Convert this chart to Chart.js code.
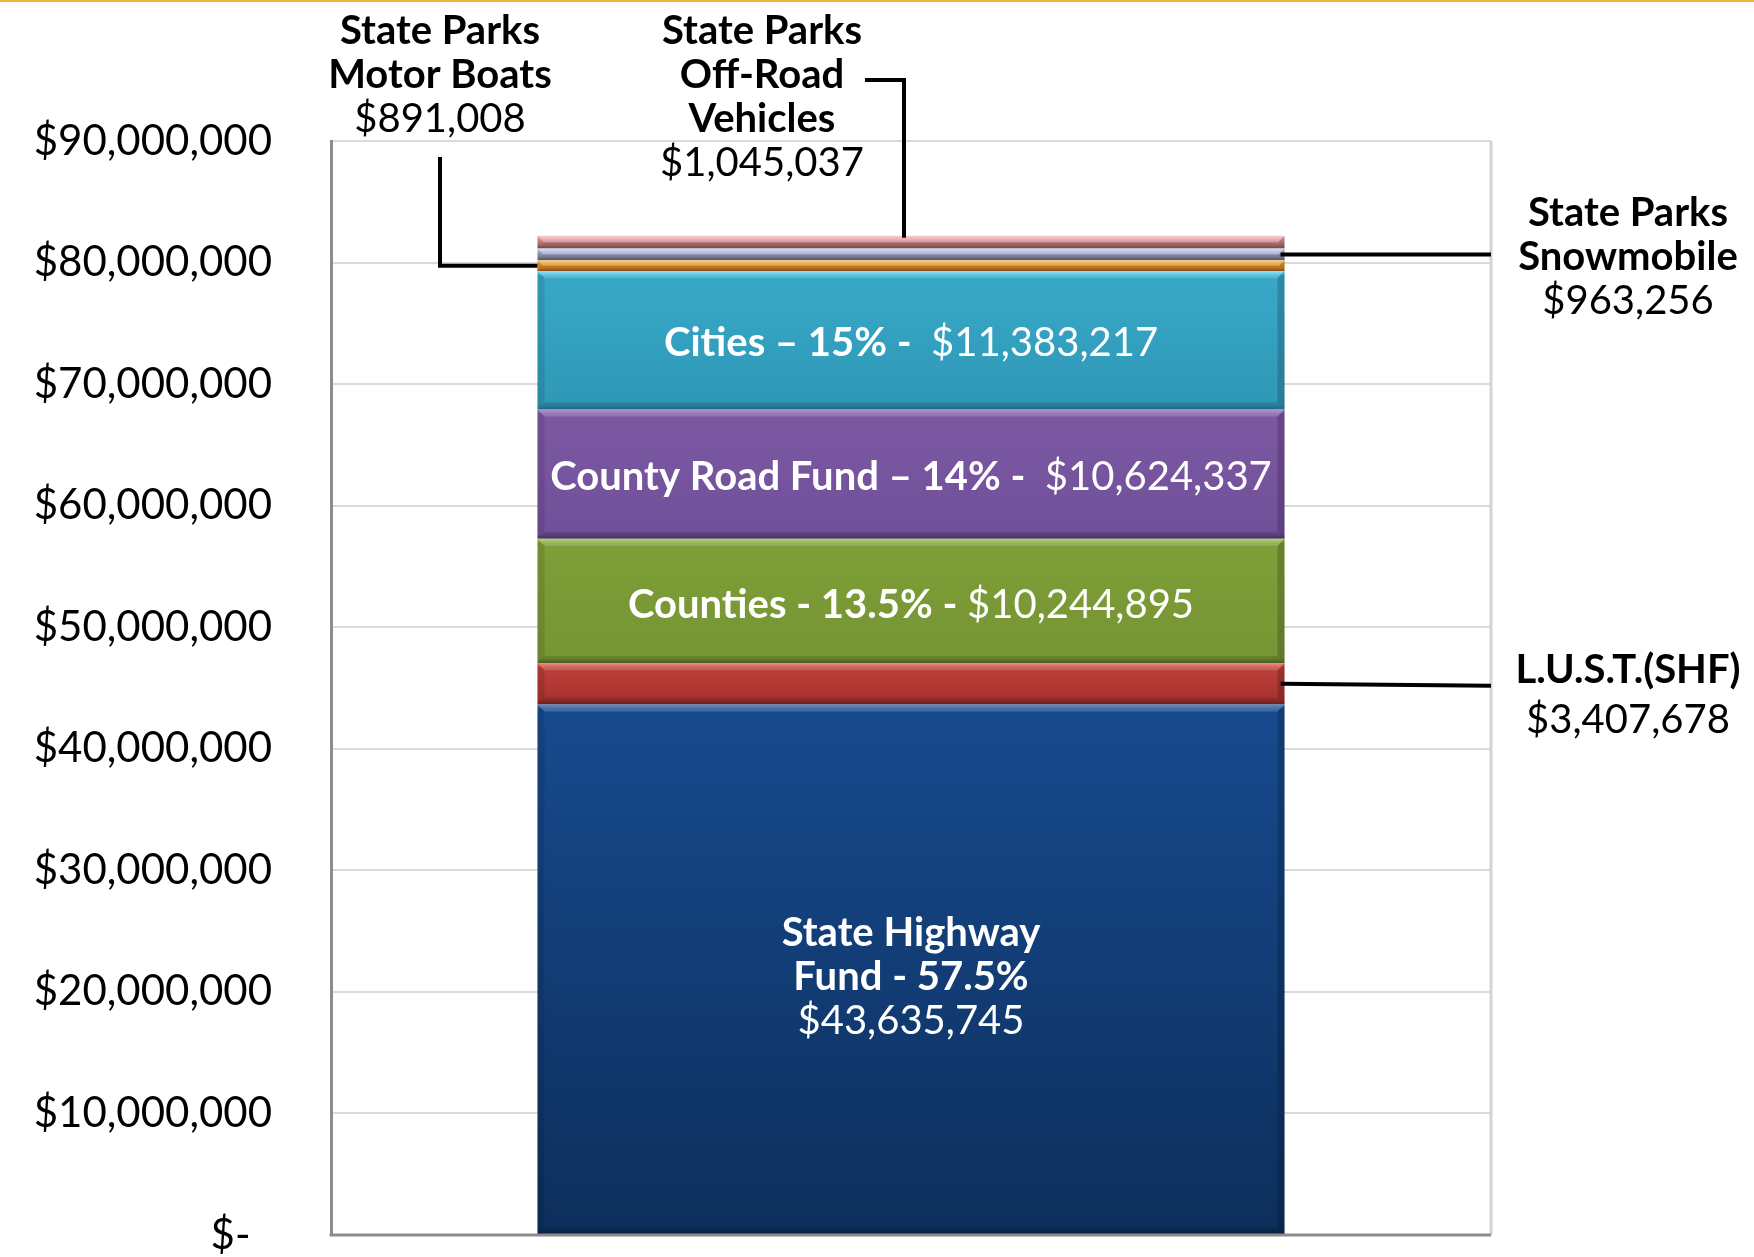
<!DOCTYPE html>
<html lang="en">
<head>
<meta charset="utf-8">
<title>Fuel tax distribution</title>
<script src="https://cdn.jsdelivr.net/npm/chart.js@4/dist/chart.umd.min.js"></script>
<style>
  html, body { margin: 0; padding: 0; background: #ffffff; }
  #franja { position: absolute; left: 0; top: 0; width: 1754px; height: 2px; background: #f3b23a; }
  canvas { display: block; }
</style>
</head>
<body>
<div id="franja"></div>
<canvas id="grafico" width="1754" height="1257"></canvas>
<script>
// Datos (de abajo hacia arriba en la pila)
const categorias = [""];
const fondos = [
  "State Highway Fund",
  "L.U.S.T.(SHF)",
  "Counties",
  "County Road Fund",
  "Cities",
  "State Parks Motor Boats",
  "State Parks Snowmobile",
  "State Parks Off-Road Vehicles",
];
const montos = [43635745, 3407678, 10244895, 10624337, 11383217, 891008, 963256, 1045037];
const porcentajes = ["57.5%", "", "13.5%", "14%", "15%", "", "", ""];
const ticksY = [0, 10000000, 20000000, 30000000, 40000000, 50000000, 60000000, 70000000, 80000000, 90000000];

// brillo, cuerpo arriba, cuerpo abajo, borde oscuro
const colores = [
  ["#3b74c0", "#174a8e", "#0d2f5c", "#0a2448"],
  ["#f06a62", "#bd3e39", "#a8332f", "#7e2421"],
  ["#a6cc52", "#7e9e38", "#769534", "#566f24"],
  ["#a07cc8", "#7c58a2", "#70509a", "#523a74"],
  ["#6ae4fa", "#38a8c8", "#2f98b6", "#247a94"],
  ["#ffc864", "#eb9a34", "#d88828", "#9a5a1a"],
  ["#d4dcfa", "#a8b2d6", "#8890a8", "#5a6078"],
  ["#ffc0c0", "#e29a9a", "#b87474", "#8a5050"],
];

const FUENTE = "Lato, sans-serif";
const TAM = 40;
const fuente = (negrita) => `${negrita ? "bold " : ""}${TAM}px ${FUENTE}`;
const dinero = (n) => "$" + n.toLocaleString("en-US");

// Degradado vertical de cada tramo, usando la escala para saber dónde cae
function degradado(c) {
  const i = c.datasetIndex;
  const chart = c.chart;
  const y = chart.scales.y;
  if (!y || !chart.chartArea) return colores[i][1];
  const inicio = montos.slice(0, i).reduce((a, b) => a + b, 0);
  const arriba = y.getPixelForValue(inicio + montos[i]);
  const abajo = y.getPixelForValue(inicio);
  const alto = Math.max(1, abajo - arriba);
  const borde = Math.min(0.3, 5 / alto);
  const g = chart.ctx.createLinearGradient(0, arriba, 0, abajo);
  g.addColorStop(0, colores[i][0]);
  g.addColorStop(borde, colores[i][1]);
  g.addColorStop(1 - borde, colores[i][2]);
  g.addColorStop(1, colores[i][3]);
  return g;
}

// Biseles laterales con esquinas en diagonal, como en el original
function bisel(ctx, el) {
  const x0 = el.x - el.width / 2;
  const x1 = el.x + el.width / 2;
  const top = el.y;
  const bot = el.base;
  const b = Math.min(7, (bot - top) / 2);
  const poligono = (pts, color) => {
    ctx.fillStyle = color;
    ctx.beginPath();
    pts.forEach((p, k) => (k ? ctx.lineTo(p[0], p[1]) : ctx.moveTo(p[0], p[1])));
    ctx.closePath();
    ctx.fill();
  };
  poligono([[x0, top], [x1, top], [x1 - b, top + b], [x0 + b, top + b]], "rgba(255,255,255,0.18)");
  poligono([[x0, top], [x0 + b, top + b], [x0 + b, bot - b], [x0, bot]], "rgba(0,0,0,0.10)");
  poligono([[x1, top], [x1, bot], [x1 - b, bot - b], [x1 - b, top + b]], "rgba(0,0,0,0.18)");
  poligono([[x0, bot], [x0 + b, bot - b], [x1 - b, bot - b], [x1, bot]], "rgba(0,0,0,0.15)");
}

function textoMixto(ctx, partes, x, y, color) {
  ctx.fillStyle = color;
  ctx.textBaseline = "middle";
  ctx.textAlign = "left";
  let ancho = 0;
  partes.forEach((p) => {
    ctx.font = fuente(p[1]);
    ancho += ctx.measureText(p[0]).width;
  });
  let xi = x - ancho / 2;
  partes.forEach((p) => {
    ctx.font = fuente(p[1]);
    ctx.fillText(p[0], xi, y);
    xi += ctx.measureText(p[0]).width;
  });
}

function lineas(ctx, filas, x, y0, salto) {
  filas.forEach((f, k) => textoMixto(ctx, [f], x, y0 + k * salto, "#000000"));
}

function guia(ctx, puntos) {
  ctx.save();
  ctx.strokeStyle = "#000000";
  ctx.lineWidth = 4;
  ctx.lineJoin = "miter";
  ctx.beginPath();
  puntos.forEach((p, k) => (k ? ctx.lineTo(p[0], p[1]) : ctx.moveTo(p[0], p[1])));
  ctx.stroke();
  ctx.restore();
}

const etiquetas = {
  id: "etiquetas",
  beforeDatasetsDraw(chart) {
    // Borde derecho del área de trazado
    const { ctx, chartArea: a } = chart;
    ctx.save();
    ctx.strokeStyle = "#d4d4d4";
    ctx.lineWidth = 3;
    ctx.beginPath();
    ctx.moveTo(a.right, a.top);
    ctx.lineTo(a.right, a.bottom);
    ctx.stroke();
    ctx.restore();
  },
  afterDatasetsDraw(chart) {
    const { ctx, chartArea: a } = chart;
    const barra = (i) => chart.getDatasetMeta(i).data[0];
    const medio = (el) => (el.y + el.base) / 2;
    ctx.save();

    fondos.forEach((_, i) => bisel(ctx, barra(i)));

    // Eje inferior
    ctx.strokeStyle = "#8c8c8c";
    ctx.lineWidth = 3;
    ctx.beginPath();
    ctx.moveTo(a.left - 1.5, a.bottom);
    ctx.lineTo(a.right, a.bottom);
    ctx.stroke();

    // Rótulos dentro de la barra
    const blanco = "#ffffff";
    [4, 3].forEach((i) => {
      const el = barra(i);
      textoMixto(ctx, [[`${fondos[i]} – ${porcentajes[i]} -  `, true], [dinero(montos[i]), false]], el.x, medio(el) + 3, blanco);
    });
    const ct = barra(2);
    textoMixto(ctx, [[`${fondos[2]} - ${porcentajes[2]} - `, true], [dinero(montos[2]), false]], ct.x, medio(ct) + 4, blanco);
    const sh = barra(0);
    const m0 = medio(sh) + 8;
    textoMixto(ctx, [["State Highway", true]], sh.x, m0 - 44, blanco);
    textoMixto(ctx, [[`Fund - ${porcentajes[0]}`, true]], sh.x, m0, blanco);
    textoMixto(ctx, [[dinero(montos[0]), false]], sh.x, m0 + 44, blanco);

    // Rótulos de fuera con sus líneas guía
    const mb = barra(5);
    lineas(ctx, [["State Parks", true], ["Motor Boats", true], [dinero(montos[5]), false]], 440, 31, 44);
    guia(ctx, [[440, 157], [440, medio(mb)], [mb.x - mb.width / 2, medio(mb)]]);

    const orv = barra(7);
    lineas(ctx, [["State Parks", true], ["Off-Road", true], ["Vehicles", true], [dinero(montos[7]), false]], 762, 31, 44);
    guia(ctx, [[865, 80], [904, 80], [904, orv.y + 2]]);

    const sn = barra(6);
    lineas(ctx, [["State Parks", true], ["Snowmobile", true], [dinero(montos[6]), false]], 1628, 213, 44);
    guia(ctx, [[sn.x + sn.width / 2 - 4, medio(sn)], [a.right, medio(sn)]]);

    const lu = barra(1);
    lineas(ctx, [[fondos[1], true], [dinero(montos[1]), false]], 1628, 670, 50);
    guia(ctx, [[lu.x + lu.width / 2 - 4, medio(lu)], [a.right, medio(lu) + 2]]);

    ctx.restore();
  },
};

new Chart(document.getElementById("grafico"), {
  type: "bar",
  data: {
    labels: categorias,
    datasets: fondos.map((nombre, i) => ({
      label: nombre,
      data: [montos[i]],
      backgroundColor: degradado,
      borderWidth: 0,
      barPercentage: 0.644,
      categoryPercentage: 1,
    })),
  },
  options: {
    responsive: false,
    animation: false,
    layout: { padding: { top: 141, right: 263, bottom: 22, left: 0 } },
    plugins: {
      legend: { display: false },
      tooltip: { enabled: false },
    },
    scales: {
      x: {
        stacked: true,
        display: false,
      },
      y: {
        stacked: true,
        min: 0,
        max: 90000000,
        afterBuildTicks: (s) => { s.ticks = ticksY.map((v) => ({ value: v })); },
        // El margen de los rótulos lo fija layout.padding
        afterFit: (s) => {
          s.width = 331;
          s.paddingTop = 0;
          s.paddingBottom = 0;
        },
        grid: { color: "#d9d9d9", lineWidth: 2, drawTicks: false },
        border: { color: "#8c8c8c", width: 3 },
        ticks: {
          padding: 59,
          color: "#000000",
          font: { family: FUENTE, size: 42 },
          callback: (v) => (v === 0 ? "$-  " : dinero(v)),
        },
      },
    },
  },
  plugins: [etiquetas],
});
</script>
</body>
</html>
